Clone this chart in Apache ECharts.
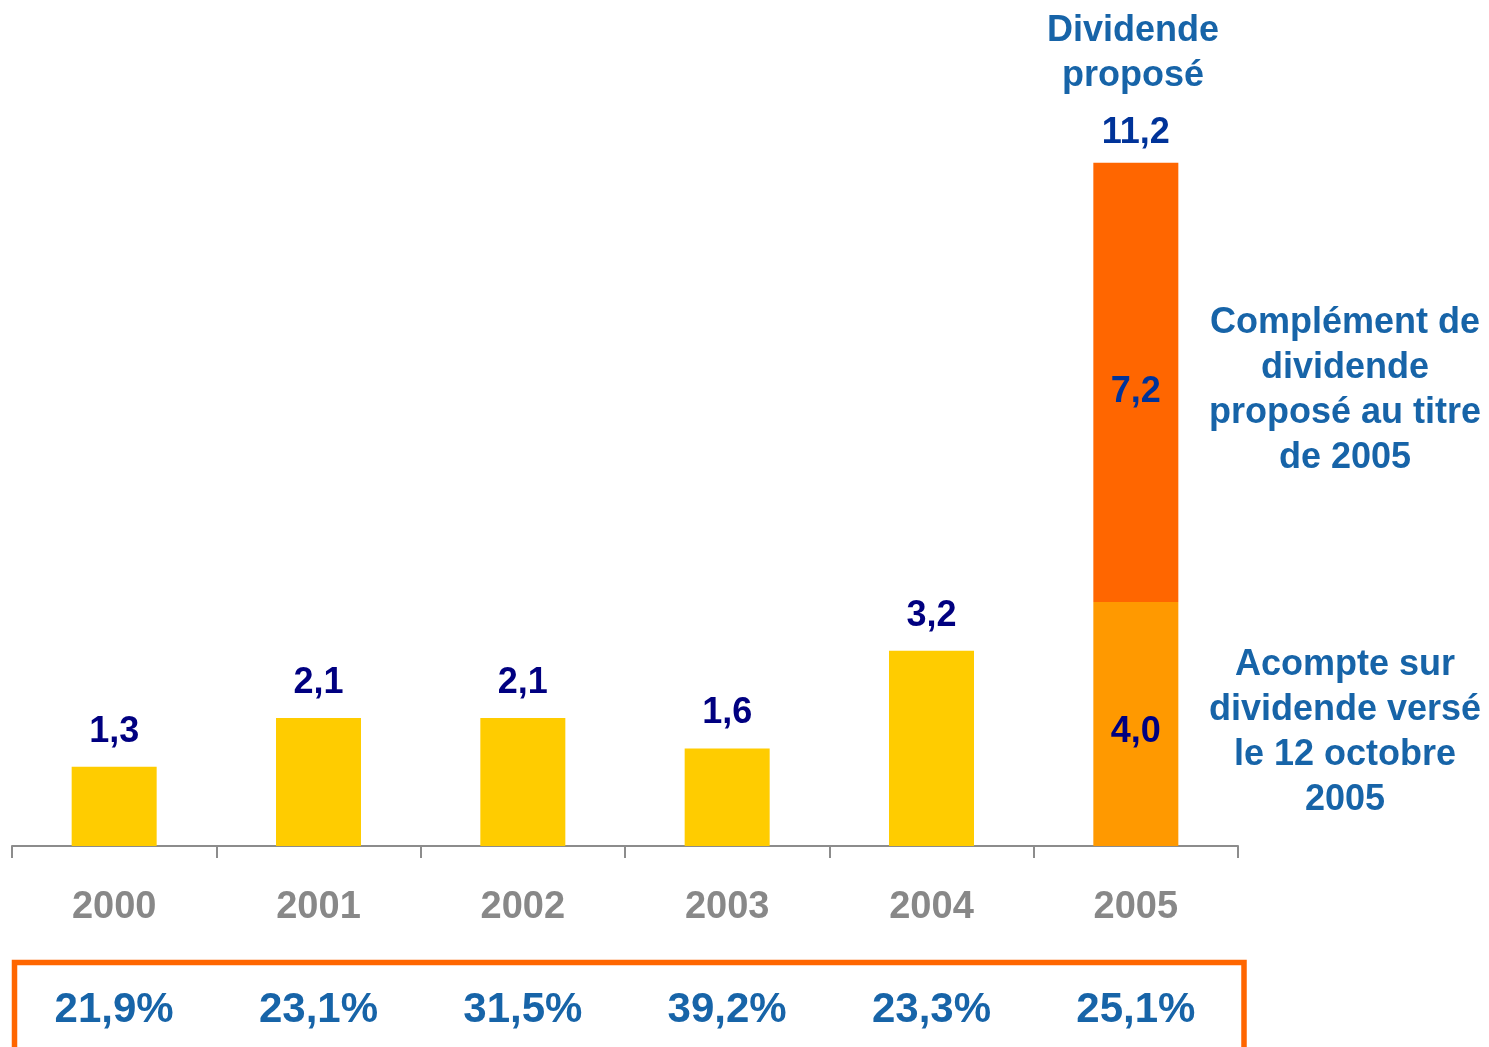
<!DOCTYPE html>
<html>
<head>
<meta charset="utf-8">
<script src="https://cdn.jsdelivr.net/npm/echarts@6/dist/echarts.min.js"></script>
<style>
  html, body { margin: 0; padding: 0; background: #fff; }
  #chart { width: 1489px; height: 1047px; }
</style>
</head>
<body>
<div id="chart"></div>
<script>
  // dividend per year (acompte = first part / whole dividend before 2005)
  const years = ["2000", "2001", "2002", "2003", "2004", "2005"]
  const acompte = [1.3, 2.1, 2.1, 1.6, 3.2, 4.0]
  const complement = [null, null, null, null, null, 7.2]
  const totals = [1.3, 2.1, 2.1, 1.6, 3.2, 11.2]
  const payout = ["21,9%", "23,1%", "31,5%", "39,2%", "23,3%", "25,1%"]

  const FONT = "Liberation Sans, Arial, sans-serif"
  const BLUE = "#1764a8"
  const fmt = v => v.toFixed(1).replace(".", ",")

  const chart = echarts.init(document.getElementById("chart"))

  const last = years.length - 1

  chart.setOption({
    backgroundColor: "#ffffff",
    animation: false,
    grid: { left: 12, right: 251, top: 114, bottom: 201, containLabel: false },
    xAxis: [
      {
        type: "category",
        data: years,
        position: "bottom",
        axisLine: { lineStyle: { color: "#8c8c8c", width: 2 } },
        axisTick: { show: true, length: 12, lineStyle: { color: "#8c8c8c", width: 2 } },
        axisLabel: { color: "#888888", fontFamily: FONT, fontWeight: "bold", fontSize: 38, margin: 43 }
      },
      {
        type: "category",
        data: payout,
        position: "bottom",
        offset: 0,
        axisLine: { show: false },
        axisTick: { show: false },
        axisLabel: { color: BLUE, fontFamily: FONT, fontWeight: "bold", fontSize: 42, margin: 143 }
      }
    ],
    yAxis: {
      type: "value",
      min: 0,
      max: 12,
      show: false,
      splitLine: { show: false }
    },
    series: [
      {
        name: "Acompte",
        type: "bar",
        stack: "div",
        barWidth: 85,
        data: acompte.map((v, i) => ({
          value: v,
          itemStyle: { color: i === last ? "#ff9900" : "#ffcc00" },
          label: i === last
            ? { position: "inside", offset: [0, 8] }
            : { position: "top", distance: 17 }
        })),
        label: {
          show: true,
          formatter: p => fmt(p.value),
          color: "#000080",
          fontFamily: FONT,
          fontWeight: "bold",
          fontSize: 36
        }
      },
      {
        name: "Complément",
        type: "bar",
        stack: "div",
        barWidth: 85,
        itemStyle: { color: "#ff6600" },
        data: complement,
        label: {
          show: true,
          position: "inside",
          offset: [0, 10],
          formatter: p => fmt(p.value),
          color: "#003399",
          fontFamily: FONT,
          fontWeight: "bold",
          fontSize: 36
        },
        markPoint: {
          symbol: "rect",
          symbolSize: 1,
          itemStyle: { color: "rgba(0,0,0,0)" },
          label: {
            show: true,
            position: "top",
            distance: 11,
            formatter: p => fmt(p.value),
            color: "#003399",
            fontFamily: FONT,
            fontWeight: "bold",
            fontSize: 36
          },
          data: [{ coord: [last, totals[last]], value: totals[last] }]
        }
      }
    ],
    graphic: [
      {
        type: "rect",
        shape: { x: 14.5, y: 962.5, width: 1229.5, height: 100 },
        style: { fill: "none", stroke: "#ff6600", lineWidth: 5.5 }
      },
      {
        type: "text",
        x: 1133, y: 54,
        style: {
          text: "Dividende\nproposé",
          align: "center", verticalAlign: "middle", lineHeight: 45,
          font: "bold 36px " + FONT, fill: BLUE
        }
      },
      {
        type: "text",
        x: 1345, y: 391,
        style: {
          text: "Complément de\ndividende\nproposé au titre\nde 2005",
          align: "center", verticalAlign: "middle", lineHeight: 45,
          font: "bold 36px " + FONT, fill: BLUE
        }
      },
      {
        type: "text",
        x: 1345, y: 733,
        style: {
          text: "Acompte sur\ndividende versé\nle 12 octobre\n2005",
          align: "center", verticalAlign: "middle", lineHeight: 45,
          font: "bold 36px " + FONT, fill: BLUE
        }
      }
    ]
  })
</script>
</body>
</html>
